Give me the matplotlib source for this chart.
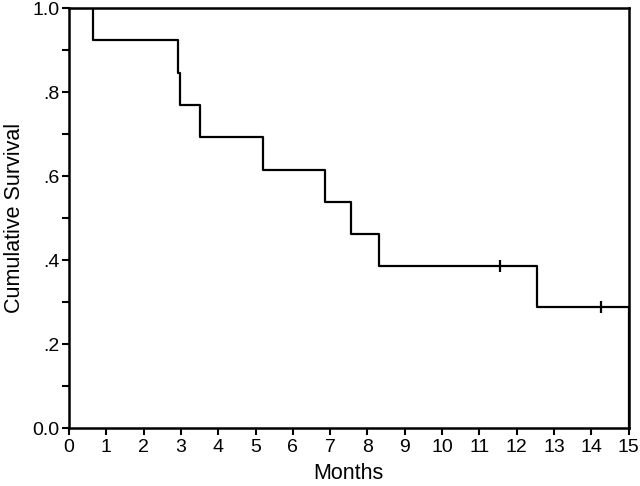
import matplotlib
matplotlib.use("Agg")
import matplotlib.pyplot as plt
from matplotlib.ticker import MultipleLocator, FixedLocator, FixedFormatter

plt.rcParams['font.family'] = ['Liberation Sans', 'DejaVu Sans']

# Kaplan-Meier step data (time in months, survival after event)
times = [0.0, 0.65, 2.92, 2.97, 3.5, 5.2, 6.85, 7.55, 8.3, 12.55, 15.0]
surv = [1.0, 0.923, 0.846, 0.769, 0.692, 0.615, 0.538, 0.462, 0.385, 0.288, 0.0]
censor_t = [11.55, 14.25]
censor_s = [0.385, 0.288]

yticks = [0.0, 0.2, 0.4, 0.6, 0.8, 1.0]
ytick_labels = ["0.0", ".2", ".4", ".6", ".8", "1.0"]
xticks = list(range(0, 16))

fig = plt.figure(figsize=(6.4, 4.86), dpi=100)
ax = fig.add_axes([0.1078, 0.1193, 0.8744, 0.8642])

ax.step(times, surv, where='post', color='black', lw=1.6)
ax.plot(censor_t, censor_s, linestyle='none', marker='|', markersize=9,
        markeredgewidth=1.6, color='black')

ax.set_xlim(0, 15)
ax.set_ylim(0, 1.0)
ax.xaxis.set_major_locator(FixedLocator(xticks))
ax.yaxis.set_major_locator(FixedLocator(yticks))
ax.yaxis.set_major_formatter(FixedFormatter(ytick_labels))
ax.yaxis.set_minor_locator(MultipleLocator(0.1))
ax.tick_params(axis='both', which='both', direction='out', length=5, width=1.5,
               labelsize=14, colors='black')
ax.tick_params(axis='x', pad=3)
ax.tick_params(axis='y', pad=2)
for sp in ax.spines.values():
    sp.set_linewidth(1.8)
    sp.set_color('black')

ax.set_xlabel("Months", fontsize=15.5, labelpad=5)
ax.set_ylabel("Cumulative Survival", fontsize=15.5, labelpad=5)

fig.savefig("out.png", dpi=100)
